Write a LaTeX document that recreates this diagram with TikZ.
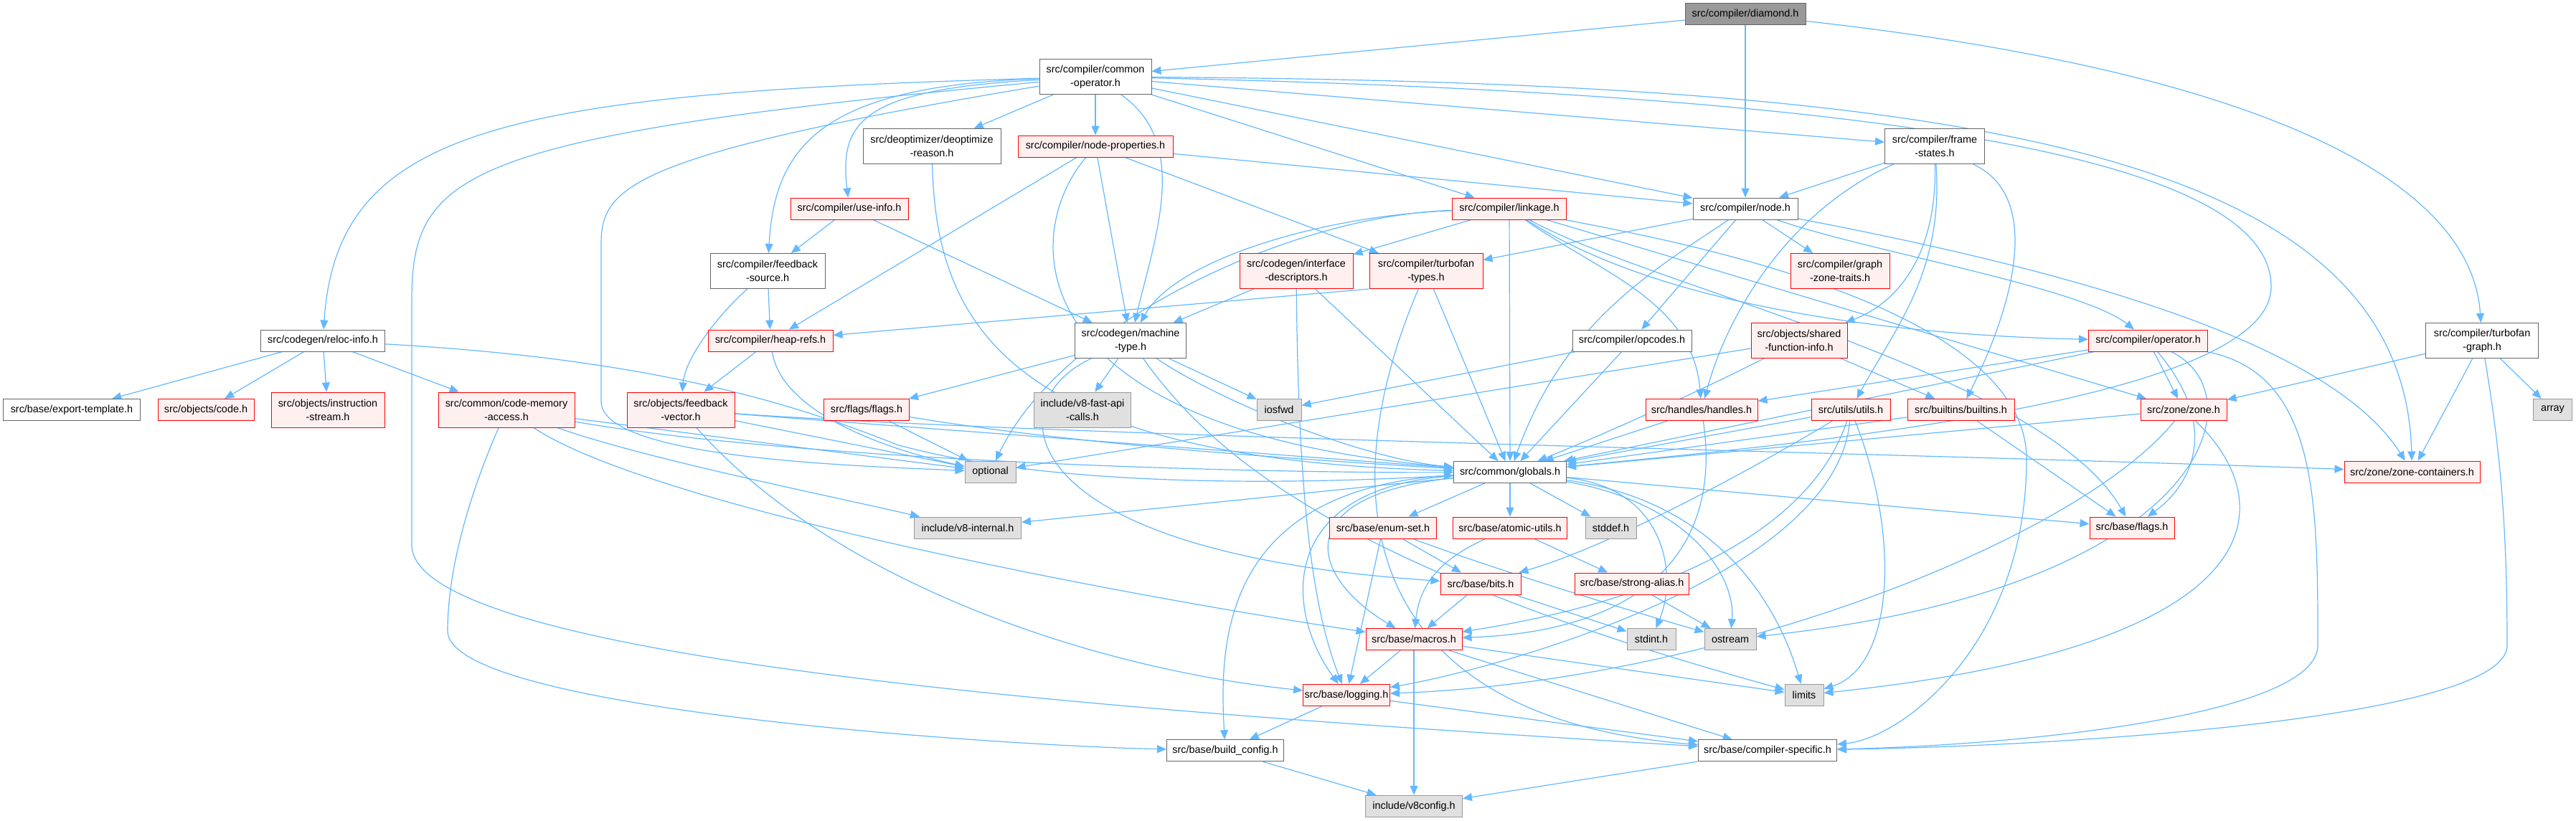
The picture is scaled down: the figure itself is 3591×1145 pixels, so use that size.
\documentclass[tikz,border=0pt]{standalone}
\usepackage{fontspec}
\setmainfont{Liberation Sans}
\usetikzlibrary{arrows.meta, backgrounds}
\definecolor{depblue}{HTML}{63B8FF}
\definecolor{boxgray}{HTML}{666666}
\definecolor{sysgray}{HTML}{999999}
\definecolor{sysfill}{HTML}{E0E0E0}
\definecolor{truncred}{HTML}{FF0000}
\definecolor{truncfill}{HTML}{FFF0F0}
\definecolor{rootfill}{HTML}{999999}

\begin{document}
\begin{tikzpicture}[x=0.5pt, y=-0.5pt,
  hdr/.style={draw=boxgray, fill=white, line width=0.5pt, inner sep=1pt, align=center,
    font=\fontsize{7.2}{9.5}\selectfont, minimum height=15pt},
  two/.style={minimum height=24.5pt},
  trunc/.style={hdr, draw=truncred, fill=truncfill},
  sys/.style={hdr, draw=sysgray, fill=sysfill},
  root/.style={hdr, fill=rootfill},
  bw/.style={minimum width=#1*0.5pt},
  dep/.style={draw=depblue, line width=0.6pt, -{Triangle[length=6.5pt,width=5.5pt]}}]
\useasboundingbox (0,0) rectangle (3591,1145);

% top rows
\node[root, bw=168] (diamond) at (2433,20) {src/compiler/diamond.h};
\node[hdr, two, bw=156] (commonop) at (1527,107) {src/compiler/common\\-operator.h};
\node[hdr, two, bw=192] (deoptreason) at (1299,204) {src/deoptimizer/deoptimize\\-reason.h};
\node[trunc, bw=216] (nodeprops) at (1527,204) {src/compiler/node-properties.h};
\node[hdr, two, bw=139] (framestates) at (2697,204) {src/compiler/frame\\-states.h};
\node[trunc, bw=164] (useinfo) at (1184,291) {src/compiler/use-info.h};
\node[trunc, bw=159] (linkage) at (2104,291) {src/compiler/linkage.h};
\node[hdr, bw=146] (nodeh) at (2433,291) {src/compiler/node.h};
\node[hdr, two, bw=160] (fbsource) at (1070,378) {src/compiler/feedback\\-source.h};
\node[trunc, two, bw=158] (ifacedesc) at (1807,378) {src/codegen/interface\\-descriptors.h};
\node[trunc, two, bw=158] (tftypes) at (1988,378) {src/compiler/turbofan\\-types.h};
\node[trunc, two, bw=138] (zonetraits) at (2565,378) {src/compiler/graph\\-zone-traits.h};

% middle rows
\node[hdr, bw=173] (relocinfo) at (450,475) {src/codegen/reloc-info.h};
\node[trunc, bw=174] (heaprefs) at (1074,475) {src/compiler/heap-refs.h};
\node[hdr, two, bw=155] (machtype) at (1576,475) {src/codegen/machine\\-type.h};
\node[hdr, bw=166] (opcodes) at (2275,475) {src/compiler/opcodes.h};
\node[trunc, two, bw=134] (sfi) at (2508,475) {src/objects/shared\\-function-info.h};
\node[trunc, bw=166] (operatorh) at (2994.5,475) {src/compiler/operator.h};
\node[hdr, two, bw=157] (tfgraph) at (3460,475) {src/compiler/turbofan\\-graph.h};

\node[hdr, bw=191] (exporttpl) at (100,571.5) {src/base/export-template.h};
\node[trunc, bw=134] (codeh) at (287,571.5) {src/objects/code.h};
\node[trunc, two, bw=158] (instrstream) at (457,571.5) {src/objects/instruction\\-stream.h};
\node[trunc, two, bw=190] (codemem) at (706,571.5) {src/common/code-memory\\-access.h};
\node[trunc, two, bw=150] (fbvector) at (949,571.5) {src/objects/feedback\\-vector.h};
\node[trunc, bw=119] (flagsflags) at (1208,571.5) {src/flags/flags.h};
\node[sys, two, bw=135] (fastapi) at (1509,571.5) {include/v8-fast-api\\-calls.h};
\node[sys, bw=62] (iosfwd) at (1783,571.5) {iosfwd};
\node[trunc, bw=156] (handles) at (2372,571.5) {src/handles/handles.h};
\node[trunc, bw=110] (utils) at (2580,571.5) {src/utils/utils.h};
\node[trunc, bw=149] (builtins) at (2733.5,571.5) {src/builtins/builtins.h};
\node[trunc, bw=120] (zoneh) at (3044,571.5) {src/zone/zone.h};
\node[sys, bw=54] (array) at (3558.5,571.5) {array};

\node[sys, bw=71] (optional) at (1380.5,658) {optional};
\node[hdr, bw=157] (globals) at (2105,658.5) {src/common/globals.h};
\node[trunc, bw=189] (zonecont) at (3362.5,658) {src/zone/zone-containers.h};

% base rows
\node[sys, bw=149] (v8internal) at (1349,736) {include/v8-internal.h};
\node[trunc, bw=149] (enumset) at (1928,736) {src/base/enum-set.h};
\node[trunc, bw=159] (atomicutils) at (2105,736) {src/base/atomic-utils.h};
\node[sys, bw=71] (stddef) at (2245.5,736) {stddef.h};
\node[trunc, bw=118] (baseflags) at (2972,736) {src/base/flags.h};
\node[trunc, bw=112] (bits) at (2064,814) {src/base/bits.h};
\node[trunc, bw=159] (strongalias) at (2275,814) {src/base/strong-alias.h};
\node[trunc, bw=134] (macros) at (1971,891.7) {src/base/macros.h};
\node[sys, bw=68] (stdint) at (2302,891.7) {stdint.h};
\node[sys, bw=72] (ostream) at (2412,891.7) {ostream};
\node[trunc, bw=115] (logging) at (1877,969.3) {src/base/logging.h};
\node[sys, bw=54] (limits) at (2515,969.3) {limits};
\node[hdr, bw=163] (buildconfig) at (1708,1046.7) {src/base/build\_config.h};
\node[hdr, bw=193] (compspec) at (2464,1046.7) {src/base/compiler-specific.h};
\node[sys, bw=135] (v8config) at (1971,1124.3) {include/v8config.h};

\begin{scope}[on background layer]
% from diamond
\draw[dep] (diamond) -- (commonop);
\draw[dep] (diamond) -- (nodeh);
\draw[dep] (diamond) .. controls (3150,100) and (3445,250) .. (tfgraph);
% from common-operator
\draw[dep] (commonop) .. controls (700,130) and (470,180) .. (relocinfo);
\draw[dep] (commonop) .. controls (640,190) and (574,240) .. (574,420) -- (574,760) .. controls (574,930) and (1700,1000) .. (compspec);
\draw[dep] (commonop) .. controls (880,215) and (838,260) .. (838,340) -- (838,560) .. controls (838,640) and (1200,650) .. (optional);
\draw[dep] (commonop) .. controls (1150,120) and (1080,200) .. (fbsource);
\draw[dep] (commonop) .. controls (1200,125) and (1170,170) .. (useinfo);
\draw[dep] (commonop) -- (deoptreason);
\draw[dep] (commonop) -- (nodeprops);
\draw[dep] (commonop) .. controls (1660,200) and (1610,330) .. (machtype);
\draw[dep] (commonop) -- (linkage);
\draw[dep] (commonop) -- (nodeh);
\draw[dep] (commonop) -- (framestates);
\draw[dep] (commonop) .. controls (2700,115) and (3350,200) .. (zonecont);
\draw[dep] (commonop) .. controls (2800,135) and (3166,250) .. (3166,400) .. controls (3166,560) and (2500,620) .. (globals);
% compiler headers
\draw[dep] (deoptreason) .. controls (1305,450) and (1400,640) .. (globals);
\draw[dep] (nodeprops) -- (heaprefs);
\draw[dep] (nodeprops) .. controls (1420,330) and (1420,600) .. (globals);
\draw[dep] (nodeprops) -- (machtype);
\draw[dep] (nodeprops) -- (tftypes);
\draw[dep] (nodeprops) -- (nodeh);
\draw[dep] (framestates) -- (nodeh);
\draw[dep] (framestates) .. controls (2700,350) and (2650,420) .. (sfi);
\draw[dep] (framestates) .. controls (2500,290) and (2410,430) .. (handles);
\draw[dep] (framestates) .. controls (2710,380) and (2640,460) .. (utils);
\draw[dep] (framestates) .. controls (2860,280) and (2790,460) .. (builtins);
\draw[dep] (useinfo) -- (fbsource);
\draw[dep] (useinfo) -- (machtype);
\draw[dep] (fbsource) -- (heaprefs);
\draw[dep] (fbsource) .. controls (1000,440) and (955,500) .. (fbvector);
\draw[dep] (heaprefs) -- (fbvector);
\draw[dep] (heaprefs) .. controls (1090,580) and (1250,630) .. (optional);
\draw[dep] (linkage) -- (ifacedesc);
\draw[dep] (linkage) .. controls (1850,300) and (1640,360) .. (machtype);
\draw[dep] (linkage) .. controls (1800,300) and (1480,450) .. (optional);
\draw[dep] (linkage) -- (globals);
\draw[dep] (linkage) .. controls (2350,450) and (2750,470) .. (operatorh);
\draw[dep] (linkage) .. controls (2230,380) and (2360,420) .. (handles);
\draw[dep] (linkage) .. controls (2300,400) and (2850,520) .. (baseflags);
\draw[dep] (linkage) -- (zoneh);
\draw[dep] (linkage) .. controls (2300,330) and (2825,420) .. (2825,640) .. controls (2825,900) and (2650,1030) .. (compspec);
\draw[dep] (nodeh) -- (tftypes);
\draw[dep] (nodeh) -- (zonetraits);
\draw[dep] (nodeh) -- (opcodes);
\draw[dep] (nodeh) .. controls (2300,380) and (2180,450) .. (globals);
\draw[dep] (nodeh) .. controls (2600,350) and (2900,400) .. (operatorh);
\draw[dep] (nodeh) .. controls (2900,380) and (3250,480) .. (zonecont);
\draw[dep] (ifacedesc) -- (machtype);
\draw[dep] (ifacedesc) -- (globals);
\draw[dep] (ifacedesc) .. controls (1810,700) and (1830,850) .. (logging);
\draw[dep] (tftypes.south west) -- (heaprefs);
\draw[dep] (tftypes) -- (globals);
\draw[dep] (tftypes) .. controls (1850,700) and (1900,1000) .. (compspec);
\draw[dep] (opcodes) -- (iosfwd);
\draw[dep] (opcodes) -- (globals);
\draw[dep] (sfi) -- (optional);
\draw[dep] (sfi) .. controls (2380,540) and (2250,600) .. (globals);
\draw[dep] (sfi) -- (builtins);
\draw[dep] (operatorh) -- (globals);
\draw[dep] (operatorh) -- (handles);
\draw[dep] (operatorh) -- (zoneh);
\draw[dep] (operatorh) .. controls (3100,600) and (3050,680) .. (baseflags);
\draw[dep] (operatorh) .. controls (3150,550) and (3080,820) .. (ostream);
\draw[dep] (operatorh) .. controls (3231,520) and (3231,700) .. (3231,900) .. controls (3231,1000) and (2800,1040) .. (compspec);
\draw[dep] (tfgraph) -- (zoneh);
\draw[dep] (tfgraph) -- (zonecont);
\draw[dep] (tfgraph) -- (array);
\draw[dep] (tfgraph) .. controls (3480,600) and (3495,700) .. (3495,900) .. controls (3495,1000) and (2900,1040) .. (compspec);
% codegen and objects
\draw[dep] (fbvector) -- (optional);
\draw[dep] (fbvector) -- (globals);
\draw[dep] (fbvector) .. controls (1500,610) and (2600,630) .. (zonecont);
\draw[dep] (fbvector) .. controls (1150,800) and (1500,930) .. (logging);
\draw[dep] (codemem) -- (optional);
\draw[dep] (codemem) .. controls (1100,640) and (1700,660) .. (globals);
\draw[dep] (codemem) .. controls (900,640) and (1150,690) .. (v8internal);
\draw[dep] (codemem) .. controls (650,700) and (624,800) .. (624,880) .. controls (624,990) and (1400,1040) .. (buildconfig);
\draw[dep] (codemem) .. controls (900,700) and (1500,820) .. (macros);
\draw[dep] (relocinfo) -- (exporttpl);
\draw[dep] (relocinfo) -- (codeh);
\draw[dep] (relocinfo) -- (instrstream);
\draw[dep] (relocinfo) -- (codemem);
\draw[dep] (relocinfo) .. controls (900,500) and (1100,560) .. (1250,620) .. controls (1500,690) and (1900,670) .. (globals);
\draw[dep] (machtype) -- (flagsflags);
\draw[dep] (machtype) -- (fastapi);
\draw[dep] (machtype) -- (iosfwd);
\draw[dep] (machtype) .. controls (1700,560) and (1900,640) .. (globals);
\draw[dep] (machtype) .. controls (1390,560) and (1400,770) .. (bits);
\draw[dep] (machtype) .. controls (1700,650) and (1900,800) .. (limits);
\draw[dep] (flagsflags) -- (optional);
\draw[dep] (flagsflags) .. controls (1500,620) and (1800,640) .. (globals);
\draw[dep] (handles) -- (globals);
\draw[dep] (handles) .. controls (2400,760) and (2300,880) .. (macros);
\draw[dep] (utils) -- (globals);
\draw[dep] (utils) .. controls (2450,650) and (2250,760) .. (bits);
\draw[dep] (utils) .. controls (2520,750) and (2300,840) .. (macros);
\draw[dep] (utils) .. controls (2560,800) and (2100,930) .. (logging);
\draw[dep] (utils) .. controls (2650,750) and (2640,930) .. (limits);
\draw[dep] (builtins) -- (globals);
\draw[dep] (builtins) -- (baseflags);
\draw[dep] (zoneh) -- (globals);
\draw[dep] (zoneh) .. controls (2900,750) and (2400,950) .. (logging);
\draw[dep] (zoneh) .. controls (3180,700) and (3180,900) .. (limits);
% globals and base
\draw[dep] (globals) -- (v8internal);
\draw[dep] (globals) -- (enumset);
\draw[dep] (globals) -- (atomicutils);
\draw[dep] (globals) -- (stddef);
\draw[dep] (globals) -- (baseflags);
\draw[dep] (globals) .. controls (1800,690) and (1820,800) .. (macros);
\draw[dep] (globals) .. controls (1780,680) and (1790,850) .. (logging);
\draw[dep] (globals) .. controls (1700,680) and (1700,900) .. (buildconfig);
\draw[dep] (globals) .. controls (2400,700) and (2480,850) .. (limits);
\draw[dep] (globals) .. controls (2350,700) and (2420,800) .. (ostream);
\draw[dep] (globals) .. controls (2320,680) and (2340,800) .. (stdint);
\draw[dep] (enumset) -- (bits);
\draw[dep] (enumset) -- (logging);
\draw[dep] (enumset) .. controls (2100,800) and (2300,860) .. (ostream);
\draw[dep] (atomicutils) .. controls (2030,770) and (1980,800) .. (macros);
\draw[dep] (atomicutils) -- (strongalias);
\draw[dep] (strongalias) -- (ostream);
\draw[dep] (bits) -- (macros);
\draw[dep] (bits) -- (stdint);
\draw[dep] (macros) -- (logging);
\draw[dep] (macros) -- (limits);
\draw[dep] (macros) -- (compspec);
\draw[dep] (macros) -- (v8config);
\draw[dep] (logging) -- (buildconfig);
\draw[dep] (logging) -- (compspec);
\draw[dep] (buildconfig) -- (v8config);
\draw[dep] (compspec) -- (v8config);
\end{scope}
\end{tikzpicture}
\end{document}
